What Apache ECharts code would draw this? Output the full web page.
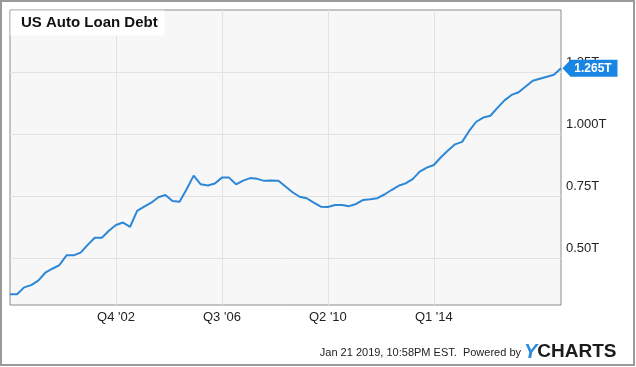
<!DOCTYPE html>
<html>
<head>
<meta charset="utf-8">
<script src="https://cdn.jsdelivr.net/npm/echarts@6/dist/echarts.min.js"></script>
<style>html,body{margin:0;padding:0;background:#fff}#c{width:636px;height:367px}</style>
</head>
<body>
<div id="c"></div>
<script>
// Quarterly categories Q1 '99 .. Q3 '18
const categories = [];
for (let y = 1999; y <= 2018; y++) {
  for (let q = 1; q <= 4; q++) {
    if (y === 2018 && q > 3) break;
    categories.push('Q' + q + " '" + String(y).slice(2));
  }
}
// US auto loan debt, trillions USD
const debt = [
  0.355, 0.355, 0.383, 0.392, 0.410, 0.442, 0.458, 0.473, 0.512, 0.512,
  0.523, 0.554, 0.583, 0.583, 0.611, 0.634, 0.644, 0.627, 0.691, 0.708,
  0.724, 0.746, 0.755, 0.731, 0.728, 0.778, 0.833, 0.798, 0.793, 0.801,
  0.825, 0.825, 0.798, 0.813, 0.823, 0.820, 0.812, 0.813, 0.812, 0.789,
  0.766, 0.748, 0.742, 0.724, 0.708, 0.707, 0.715, 0.715, 0.710, 0.719,
  0.735, 0.738, 0.742, 0.757, 0.775, 0.792, 0.802, 0.819, 0.849, 0.865,
  0.876, 0.907, 0.934, 0.959, 0.969, 1.013, 1.050, 1.067, 1.074, 1.106,
  1.136, 1.158, 1.169, 1.192, 1.215, 1.223, 1.231, 1.239, 1.265
];
const xTickLabels = ["Q4 '02", "Q3 '06", "Q2 '10", "Q1 '14"];
const yTickValues = [0.5, 0.75, 1.0, 1.25];
const yTickLabels = ['0.50T', '0.75T', '1.000T', '1.25T'];
const lastLabel = '1.265T';
const title = 'US Auto Loan Debt';
const footer = 'Jan 21 2019, 10:58PM EST.  Powered by';

const xTickIdx = xTickLabels.map(l => categories.indexOf(l));
const showX = (idx) => xTickIdx.indexOf(idx) >= 0;
const last = debt.length - 1;

const chart = echarts.init(document.getElementById('c'), null, {renderer: 'canvas'});
chart.setOption({
  animation: false,
  backgroundColor: '#ffffff',
  textStyle: {fontFamily: 'Liberation Sans, Arial, sans-serif'},
  grid: {
    left: 10, right: 75, top: 10, bottom: 62,
    show: true, backgroundColor: '#f7f7f7', borderColor: '#8c8c8c', borderWidth: 1
  },
  xAxis: {
    type: 'category', data: categories, boundaryGap: false,
    axisLine: {show: false}, axisTick: {show: false},
    axisLabel: {interval: (i) => showX(i), color: '#222', fontSize: 13, margin: 6},
    splitLine: {show: true, interval: (i) => showX(i), lineStyle: {color: '#e2e2e2', width: 1}}
  },
  yAxis: {
    type: 'value', position: 'right', min: 0.312, max: 1.5,
    axisLine: {show: false},
    axisTick: {show: false, customValues: yTickValues},
    axisLabel: {
      customValues: yTickValues, color: '#222', fontSize: 13, margin: 5,
      verticalAlign: 'bottom', lineHeight: 19,
      formatter: (v) => { const k = yTickValues.findIndex(t => Math.abs(t - v) < 1e-6); return k >= 0 ? yTickLabels[k] : ''; }
    },
    splitLine: {show: true, lineStyle: {color: '#e2e2e2', width: 1}}
  },
  series: [{
    type: 'line', data: debt, symbol: 'none', smooth: false,
    lineStyle: {color: '#2d87d6', width: 2},
    markPoint: {
      silent: true,
      symbol: 'path://M0,8.5 L8,0 L55,0 L55,17 L8,17 Z',
      symbolSize: [55, 17], symbolOffset: [29, 0], symbolKeepAspect: false,
      itemStyle: {color: '#1a86e3'},
      label: {show: true, position: 'inside', offset: [3, 0], color: '#fff', fontWeight: 'bold', fontSize: 12,
        formatter: () => lastLabel},
      data: [{coord: [last, debt[last]]}]
    }
  }],
  graphic: [
    {type: 'rect', shape: {x: 10.5, y: 10.5, width: 154, height: 25}, style: {fill: '#ffffff'}, z: 1},
    {type: 'text', left: 21, top: 15, style: {text: title, font: 'bold 15px Liberation Sans, Arial, sans-serif', fill: '#111'}, z: 2},
    {type: 'text', x: 521, y: 353, style: {text: footer, font: '11px Liberation Sans, Arial, sans-serif', fill: '#222', align: 'right', verticalAlign: 'middle'}, z: 2},
    {type: 'text', x: 524, y: 352, style: {
      text: '{y|Y}{c|CHARTS}', verticalAlign: 'middle', align: 'left',
      rich: {
        y: {font: 'bold italic 20px Liberation Sans, Arial, sans-serif', fill: '#2a8be0'},
        c: {font: 'bold 19px Liberation Sans, Arial, sans-serif', fill: '#1b1b1b'}
      }}, z: 2},
    {type: 'rect', shape: {x: 1, y: 1, width: 633, height: 364}, style: {fill: 'none', stroke: '#9a9a9a', lineWidth: 2}, z: 3}
  ]
});
</script>
</body>
</html>
